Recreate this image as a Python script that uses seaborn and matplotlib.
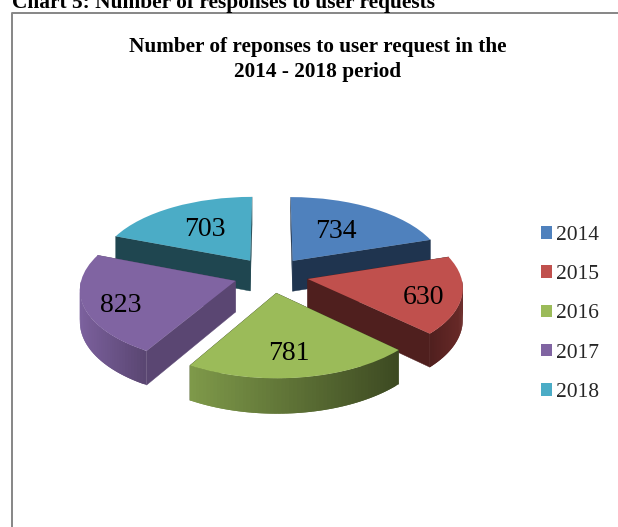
import numpy as np
import seaborn as sns
import matplotlib.pyplot as plt
from matplotlib.colors import to_rgb
from matplotlib.patches import Polygon
from matplotlib.transforms import Transform

years = ["2014", "2015", "2016", "2017", "2018"]
responses = [734, 630, 781, 823, 703]

top_colors = ["#4F81BD", "#C0504D", "#9BBB59", "#8064A2", "#4BACC6"]
face_colors = ["#1F344F", "#4F1F1E", "#3F4C24", "#5A4672", "#1F4650"]
wall_left = ["#1F344F", "#4F1F1E", "#7F9A4A", "#7C619E", "#1F4650"]
wall_right = ["#1F344F", "#6A2A28", "#3D4A22", "#5A4672", "#1F4650"]
draw_order = [0, 4, 1, 3, 2]

# where the numbers sit, in image pixels
label_pos = [(336, 231), (424, 297), (289, 354), (121, 306), (205, 229)]

# 3d look of the pie
cx, cy = 271, 275
rad_x, rad_y = 153, 72.8
persp = 0.10
depth = 31
blow_out = 0.245

sns.set_theme(style="white")
plt.rcParams["font.family"] = ["Liberation Serif", "DejaVu Serif"]


def project(x, y, z=0.0):
    # unit pie coords to image pixels, front of the pie gets bigger
    s = 1 / (1 + persp * np.asarray(y))
    return cx + rad_x * np.asarray(x) * s, cy - rad_y * np.asarray(y) * s + depth * z * s


class PieProjection(Transform):
    input_dims = 2
    output_dims = 2

    def transform_non_affine(self, values):
        px, py = project(values[:, 0], values[:, 1])
        return np.column_stack([px, py])


fig = plt.figure(figsize=(6.18, 5.27), dpi=100)
ax = fig.add_axes([0, 0, 1, 1])

wedges, _ = ax.pie(responses, colors=top_colors, startangle=90, counterclock=False,
                   explode=[blow_out] * len(years), radius=1, frame=False)
ax.set_aspect("auto")
ax.set_xlim(0, 618)
ax.set_ylim(527, 0)
ax.axis("off")

shift = PieProjection() + ax.transData
angles = np.cumsum([0] + responses) / sum(responses) * 2 * np.pi

for rank, i in enumerate(draw_order):
    base = 10 + rank * 10
    wedges[i].set_transform(shift)
    wedges[i].set_zorder(base + 5)
    wedges[i].set_linewidth(0)

    a0, a1 = angles[i], angles[i + 1]
    mid = (a0 + a1) / 2
    ox, oy = blow_out * np.sin(mid), blow_out * np.cos(mid)

    # cut faces from the tip out to the rim
    for a in (a0, a1):
        rim = (ox + np.sin(a), oy + np.cos(a))
        pts = [project(ox, oy), project(*rim), project(*rim, 1), project(ox, oy, 1)]
        ax.add_patch(Polygon(pts, closed=True, fc=face_colors[i], ec=face_colors[i],
                             lw=0.3, zorder=base))

    # outer wall, only the part that looks to the front
    steps = np.linspace(a0, a1, 61)
    left, right = np.array(to_rgb(wall_left[i])), np.array(to_rgb(wall_right[i]))
    xs = project(ox + np.sin(steps), oy + np.cos(steps))[0]
    for j in range(len(steps) - 1):
        if np.cos((steps[j] + steps[j + 1]) / 2) >= 0:
            continue
        t = (xs[j] - xs.min()) / (xs.max() - xs.min())
        col = left + (right - left) * t
        # each strip runs over the next one so no seams show
        end = min(j + 2, len(steps) - 1)
        p0 = (ox + np.sin(steps[j]), oy + np.cos(steps[j]))
        p1 = (ox + np.sin(steps[end]), oy + np.cos(steps[end]))
        quad = [project(*p0), project(*p1), project(*p1, 1), project(*p0, 1)]
        ax.add_patch(Polygon(quad, closed=True, fc=col, ec="none", lw=0, zorder=base + 1))

    ax.text(label_pos[i][0], label_pos[i][1], str(responses[i]), fontsize=20, color="black",
            ha="center", va="center", zorder=100)

# chart frame, only left and top are on the page
ax.plot([11.5, 11.5, 618], [527, 13, 13], color="#868686", lw=1.4, zorder=1)

ax.text(12, 8, "Chart 5: Number of responses to user requests", fontsize=15.4, fontweight="bold",
        ha="left", va="baseline", color="black")
ax.text(318, 47, "Number of reponses to user request in the", fontsize=15.3, fontweight="bold",
        ha="center", va="center", color="black")
ax.text(318, 72, "2014 - 2018 period", fontsize=15.3, fontweight="bold",
        ha="center", va="center", color="black")

ax.legend(wedges, years, loc="center left", bbox_to_anchor=(541, 314),
          bbox_transform=ax.transData, frameon=False, fontsize=15.5, handlelength=0.51,
          handleheight=0.51, handletextpad=0.2, labelspacing=0.94, borderpad=0, borderaxespad=0)

fig.savefig("out.png", dpi=100)
